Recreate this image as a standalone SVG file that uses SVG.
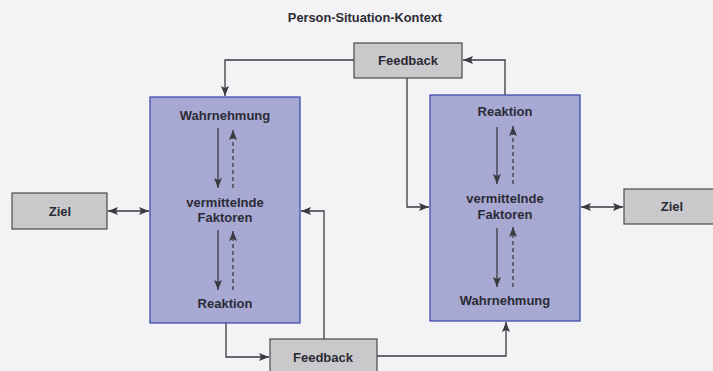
<svg xmlns="http://www.w3.org/2000/svg" width="713" height="371" viewBox="0 0 713 371">
<defs>
<style>
.bg{fill:#f3f3f6}
.big{fill:#a7a9d3;stroke:#3f4fae;stroke-width:1.3}
.grey{fill:#c9c9cb;stroke:#4a4a4e;stroke-width:1.2}
text{font-family:"Liberation Sans",Arial,sans-serif;font-weight:bold;fill:#2b2b35;text-anchor:middle}
.lbl{font-size:13px}
.title{font-size:12.8px}
.con{fill:none;stroke:#3a3a40;stroke-width:1.3}
.dash{stroke-dasharray:4 3}
</style>
<marker id="ah" viewBox="0 0 10 8" refX="10" refY="4" markerUnits="userSpaceOnUse" markerWidth="10" markerHeight="8" orient="auto-start-reverse">
<path d="M0,0 L10,4 L0,8 L2,4 z" fill="#3a3a40"/>
</marker>
</defs>
<rect class="bg" x="0" y="0" width="713" height="371"/>
<text class="title" x="365" y="22">Person-Situation-Kontext</text>

<g id="connectors">
<path class="con" d="M354,60 H225 V96" marker-end="url(#ah)"/>
<path class="con" d="M505,95 V60 H463" marker-end="url(#ah)"/>
<path class="con" d="M407,78 V207 H429" marker-end="url(#ah)"/>
<path class="con" d="M108,211 H149" marker-start="url(#ah)" marker-end="url(#ah)"/>
<path class="con" d="M581,207 H623" marker-start="url(#ah)" marker-end="url(#ah)"/>
<path class="con" d="M226,323 V357 H269" marker-end="url(#ah)"/>
<path class="con" d="M324,339 V211 H301" marker-end="url(#ah)"/>
<path class="con" d="M377,356 H506 V322" marker-end="url(#ah)"/>
</g>

<g id="box-left">
<rect class="big" x="150" y="97" width="150" height="226"/>
<text class="lbl" x="225" y="120">Wahrnehmung</text>
<text class="lbl" x="225" y="207">vermittelnde</text>
<text class="lbl" x="225" y="222">Faktoren</text>
<text class="lbl" x="225" y="308">Reaktion</text>
<path class="con" d="M218,128 V188" marker-end="url(#ah)"/>
<path class="con dash" d="M233,188 V130" marker-end="url(#ah)"/>
<path class="con" d="M218,230 V290" marker-end="url(#ah)"/>
<path class="con dash" d="M233,290 V231" marker-end="url(#ah)"/>
</g>

<g id="box-right">
<rect class="big" x="430" y="95" width="150" height="226"/>
<text class="lbl" x="505" y="116">Reaktion</text>
<text class="lbl" x="505" y="203">vermittelnde</text>
<text class="lbl" x="505" y="219">Faktoren</text>
<text class="lbl" x="505" y="305">Wahrnehmung</text>
<path class="con" d="M497,127 V184" marker-end="url(#ah)"/>
<path class="con dash" d="M513,184 V126" marker-end="url(#ah)"/>
<path class="con" d="M497,228 V287" marker-end="url(#ah)"/>
<path class="con dash" d="M513,287 V227" marker-end="url(#ah)"/>
</g>

<g id="feedback-top">
<rect class="grey" x="354" y="43" width="108" height="35"/>
<text class="lbl" x="408" y="65">Feedback</text>
</g>

<g id="feedback-bottom">
<rect class="grey" x="270" y="339" width="107" height="38"/>
<text class="lbl" x="323" y="362">Feedback</text>
</g>

<g id="ziel-left">
<rect class="grey" x="12" y="193" width="95" height="36"/>
<text class="lbl" x="60" y="216">Ziel</text>
</g>

<g id="ziel-right">
<rect class="grey" x="624" y="189" width="95" height="35"/>
<text class="lbl" x="672" y="211">Ziel</text>
</g>
</svg>
